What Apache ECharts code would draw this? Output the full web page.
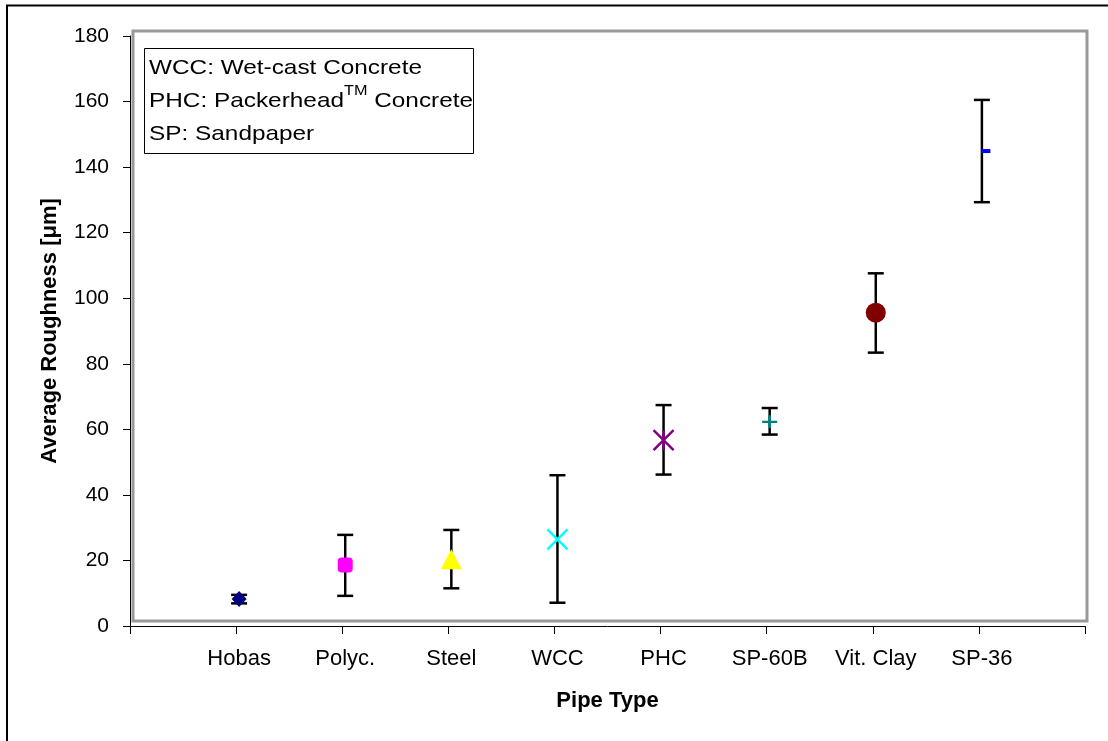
<!DOCTYPE html>
<html>
<head>
<meta charset="utf-8">
<script src="https://cdn.jsdelivr.net/npm/echarts@6/dist/echarts.min.js"></script>
<style>
  html, body { margin: 0; padding: 0; background: #fff; }
  #chart { width: 1108px; height: 741px; }
</style>
</head>
<body>
<div id="chart"></div>
<script>
// Pipe types along the x axis (placed at 1..8 on a 0..9 value axis)
const categories = ['Hobas', 'Polyc.', 'Steel', 'WCC', 'PHC', 'SP-60B', 'Vit. Clay', 'SP-36'];
// Average roughness and the ends of each error bar
const meanRoughness  = [8.2, 18.6, 20.4, 26.4, 56.7, 62.3, 95.6, 144.9];
const upperRoughness = [9.5, 27.8, 29.3, 46.0, 67.4, 66.5, 107.6, 160.5];
const lowerRoughness = [6.9, 9.2, 11.5, 7.1, 46.2, 58.4, 83.4, 129.3];
// Value axis range
const yMin = 0, yMax = 180, yStep = 20;
// Abbreviation notes shown in the box
const noteLines = ['WCC: Wet-cast Concrete', 'PHC: Packerhead', 'TM', ' Concrete', 'SP: Sandpaper'];

const FONT = "'Liberation Sans', Arial, sans-serif";
const SHIFT = 3; // marks sit a few pixels right of their tick

// One marker look per pipe type
const markerStyles = [
  { symbol: 'diamond', size: [15, 16], item: { color: '#000080' } },
  { symbol: 'roundRect', size: [15, 15], item: { color: '#ff00ff' } },
  { symbol: 'triangle', size: [21, 20], item: { color: '#ffff00' } },
  { symbol: 'path://M0,0L20,20M20,0L0,20', size: [20, 20],
    item: { color: 'rgba(0,0,0,0)', borderColor: '#00ffff', borderWidth: 2.5 } },
  { symbol: 'path://M0,0L20,20M20,0L0,20M10,0L10,20', size: [20, 20],
    item: { color: 'rgba(0,0,0,0)', borderColor: '#800080', borderWidth: 2.5 } },
  { symbol: 'path://M0,6.5L15,6.5M7.5,0L7.5,13', size: [15, 13],
    item: { color: 'rgba(0,0,0,0)', borderColor: '#008080', borderWidth: 2.5 } },
  { symbol: 'circle', size: 20, item: { color: '#800000' } },
  { symbol: 'rect', size: [9, 4], item: { color: '#0000ff' }, offset: [SHIFT + 4, 0] }
];

const chart = echarts.init(document.getElementById('chart'), null, { renderer: 'canvas' });

const errorData = categories.map((c, i) => [i + 1, lowerRoughness[i], upperRoughness[i]]);
const pointData = categories.map((c, i) => ({
  value: [i + 1, meanRoughness[i]],
  symbol: markerStyles[i].symbol,
  symbolSize: markerStyles[i].size,
  symbolOffset: markerStyles[i].offset || [SHIFT, 0],
  itemStyle: Object.assign({ opacity: 1 }, markerStyles[i].item)
}));

const option = {
  backgroundColor: '#fff',
  animation: false,
  grid: { left: 130, right: 23, top: 36, bottom: 115, containLabel: false },
  xAxis: {
    type: 'value', min: 0, max: categories.length + 1, interval: 1,
    name: 'Pipe Type', nameLocation: 'middle', nameGap: 64,
    nameTextStyle: { fontFamily: FONT, fontSize: 22, fontWeight: 'bold', color: '#000' },
    axisLine: { show: true, onZero: false, lineStyle: { color: '#000', width: 1 } },
    axisTick: { show: true, inside: false, length: 8, lineStyle: { color: '#000', width: 1 } },
    axisLabel: {
      margin: 22, fontFamily: FONT, fontSize: 22, color: '#000', padding: [0, 0, 0, 6],
      formatter: v => (v >= 1 && v <= categories.length ? categories[v - 1] : '')
    },
    splitLine: { show: false }
  },
  yAxis: {
    type: 'value', min: yMin, max: yMax, interval: yStep,
    name: 'Average Roughness [μm]', nameLocation: 'middle', nameGap: 69,
    nameTextStyle: { fontFamily: FONT, fontSize: 22, fontWeight: 'bold', color: '#000' },
    axisLine: { show: true, onZero: false, lineStyle: { color: '#000', width: 1 } },
    axisTick: { show: true, inside: false, length: 7, lineStyle: { color: '#000', width: 1 } },
    axisLabel: { margin: 21, fontFamily: FONT, fontSize: 21, color: '#000' },
    splitLine: { show: false }
  },
  graphic: [
    // outer chart frame
    { type: 'rect', z: 0, shape: { x: 7, y: 5.5, width: 1300, height: 900 },
      style: { fill: null, stroke: '#000', lineWidth: 2 }, silent: true },
    // plot area border
    { type: 'rect', z: 0, shape: { x: 133, y: 31, width: 954, height: 590 },
      style: { fill: null, stroke: '#999', lineWidth: 3 }, silent: true },
    // abbreviation box
    { type: 'rect', z: 5, shape: { x: 144.5, y: 48.5, width: 329, height: 105 },
      style: { fill: '#fff', stroke: '#000', lineWidth: 1 }, silent: true },
    { type: 'text', z: 6, x: 149, y: 51.5, scaleX: 1.16, silent: true,
      style: {
        text: '{n|' + noteLines[0] + '}\n{n|' + noteLines[1] + '}{s|' + noteLines[2] + '}{n|' +
              noteLines[3] + '}\n{n|' + noteLines[4] + '}',
        fill: '#000',
        rich: {
          n: { fontFamily: FONT, fontSize: 21, lineHeight: 33, fill: '#000' },
          s: { fontFamily: FONT, fontSize: 14, lineHeight: 8, verticalAlign: 'top', fill: '#000' }
        }
      } }
  ],
  series: [
    {
      type: 'custom', z: 3,
      data: errorData,
      encode: { x: 0, y: [1, 2] },
      renderItem: (params, api) => {
        const x = api.value(0);
        const pLo = api.coord([x, api.value(1)]);
        const pHi = api.coord([x, api.value(2)]);
        const cx = pLo[0] + SHIFT;
        const half = 8;
        const st = { stroke: '#000', lineWidth: 2.5 };
        return {
          type: 'group',
          children: [
            { type: 'line', shape: { x1: cx, y1: pHi[1], x2: cx, y2: pLo[1] }, style: st },
            { type: 'line', shape: { x1: cx - half, y1: pHi[1], x2: cx + half, y2: pHi[1] }, style: st },
            { type: 'line', shape: { x1: cx - half, y1: pLo[1], x2: cx + half, y2: pLo[1] }, style: st }
          ]
        };
      }
    },
    {
      type: 'scatter', z: 4,
      data: pointData
    }
  ]
};

chart.setOption(option);
</script>
</body>
</html>
